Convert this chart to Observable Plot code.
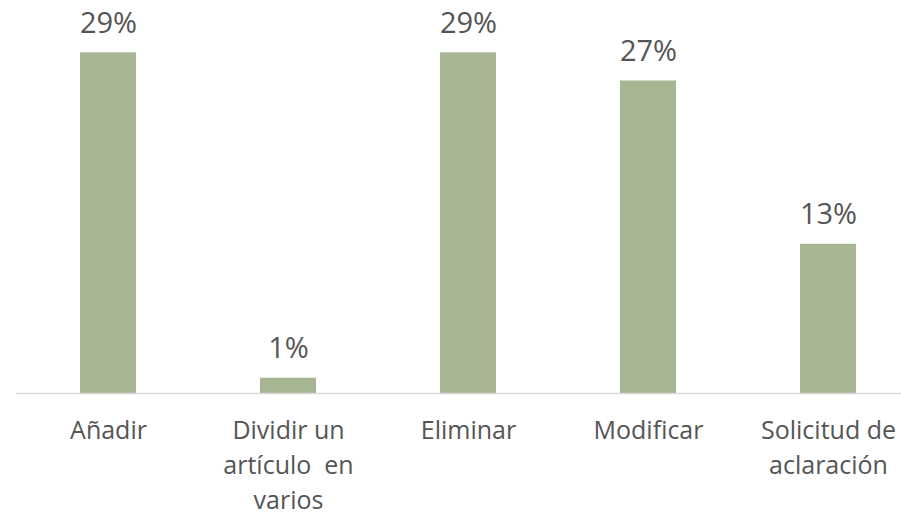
<!DOCTYPE html>
<html>
<head>
<meta charset="utf-8">
<script src="https://cdn.jsdelivr.net/npm/d3@7"></script>
<script src="https://cdn.jsdelivr.net/npm/@observablehq/plot@0.6"></script>
<style>
  html, body { margin: 0; padding: 0; background: #fff; overflow: hidden; }
  svg text { white-space: pre; }
</style>
</head>
<body>
<div id="chart"></div>
<script>
const categories = ["Añadir", "Dividir un artículo en varios", "Eliminar", "Modificar", "Solicitud de aclaración"];
const tickLabels = ["Añadir", "Dividir un\nartículo  en\nvarios", "Eliminar", "Modificar", "Solicitud de\naclaración"];
const values = [29, 1.3, 29, 26.6, 12.7];

const data = categories.map((c, i) => ({category: c, value: values[i], label: tickLabels[i]}));

const font = "'Open Sans', sans-serif";
const textColor = "#555555";

const chart = Plot.plot({
  width: 901,
  height: 513,
  marginLeft: 16,
  marginRight: 0,
  marginTop: 0,
  marginBottom: 0,
  style: {fontFamily: font, background: "#fff"},
  x: {domain: categories, range: [17, 919], paddingInner: 0.687, paddingOuter: 0.3435, axis: null},
  y: {domain: [0, 29], range: [393, 52.3], axis: null},
  marks: [
    Plot.barY(data, {x: "category", y: "value", fill: "#a6b592"}),
    Plot.ruleY([0], {stroke: "#d9d9d9", strokeWidth: 1.5}),
    Plot.text(data, {
      x: "category", y: "value",
      text: d => Math.round(d.value) + "%",
      lineAnchor: "bottom", dy: -20,
      fontSize: 29, fill: textColor, fontFamily: font
    }),
    Plot.text(data, {
      x: "category", y: 0,
      text: "label",
      lineAnchor: "top", dy: 21,
      lineHeight: 1.4,
      fontSize: 25, fill: textColor, fontFamily: font
    })
  ]
});
document.getElementById("chart").appendChild(chart);
</script>
</body>
</html>
